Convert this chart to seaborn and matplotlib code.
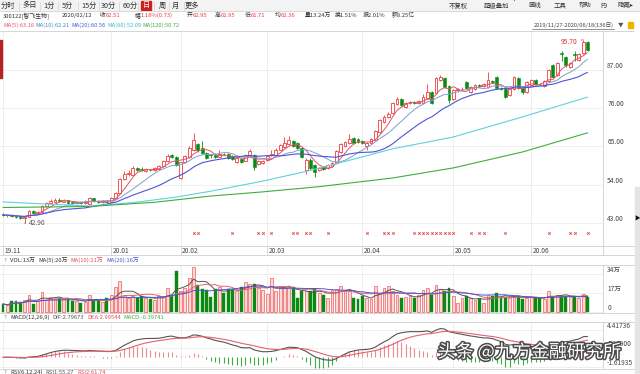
import numpy as np
import pandas as pd
import matplotlib
matplotlib.use("Agg")
import matplotlib.pyplot as plt
import matplotlib.patheffects as pe
from matplotlib.patches import Rectangle
from matplotlib.lines import Line2D
import seaborn as sns

# ------------------------------------------
# Data, 300122 daily, 2019/11/27 - 2020/06/18
# ------------------------------------------
open_ = [45.4, 45.1, 45.3, 44.9, 44.7, 44.4, 44.7, 46.3, 45.9, 46.1,
         47.9, 48.7, 49.1, 49.7, 49.1, 49.5, 48.9, 48.6, 48.9, 48.6,
         48.5, 50.0, 49.4, 48.9, 49.3, 49.1, 50.0, 51.6, 55.6, 57.1,
         56.9, 58.7, 58.4, 58.0, 58.3, 58.1, 58.6, 59.3, 60.7, 62.5,
         61.9, 55.9, 60.6, 61.9, 63.9, 65.6, 64.6, 63.0, 62.95, 62.6,
         62.0, 62.9, 62.8, 62.1, 60.4, 61.3, 60.9, 62.3, 62.6, 59.8,
         60.1, 61.1, 62.6, 62.6, 64.1, 64.9, 65.6, 66.6, 65.9, 64.4,
         58.3, 61.1, 59.6, 58.1, 59.1, 58.7, 59.4, 60.1, 63.4, 65.1,
         66.1, 67.3, 67.1, 66.6, 65.1, 66.0, 66.9, 69.1, 72.1, 73.6,
         74.6, 77.1, 78.7, 76.3, 77.5, 77.7, 77.4, 77.6, 78.9, 80.6,
         80.3, 84.1, 84.6, 82.3, 78.6, 81.1, 81.4, 83.6, 80.6, 81.6,
         82.6, 82.5, 82.1, 83.9, 84.9, 81.9, 81.6, 79.9, 81.4, 84.6,
         81.9, 80.6, 82.6, 84.1, 83.1, 82.3, 83.7, 88.3, 85.5, 91.9,
         90.6, 87.9, 91.6, 89.9, 91.8, 95.1]
close = [45.1, 45.3, 44.9, 44.7, 44.4, 44.6, 46.4, 45.9, 46.0, 47.9,
         48.6, 49.4, 49.6, 49.3, 49.5, 48.8, 48.6, 48.9, 48.7, 49.0,
         50.1, 49.2, 48.9, 49.3, 49.1, 50.1, 51.6, 55.7, 57.1, 57.3,
         58.9, 58.3, 58.1, 58.4, 58.1, 58.7, 59.3, 60.9, 62.3, 61.9,
         59.7, 60.4, 62.1, 64.6, 66.9, 63.9, 63.0, 61.78, 62.51, 61.9,
         62.8, 62.7, 61.7, 61.3, 61.6, 60.6, 62.6, 63.6, 59.1, 60.7,
         60.9, 62.3, 62.9, 64.1, 65.3, 66.1, 66.7, 65.1, 64.6, 61.9,
         61.1, 58.9, 57.6, 58.9, 58.6, 59.7, 60.1, 63.6, 65.6, 66.3,
         67.1, 66.1, 66.3, 65.9, 65.9, 67.1, 69.5, 72.6, 73.6, 74.4,
         77.6, 78.7, 77.0, 77.4, 77.7, 77.6, 78.1, 79.1, 80.6, 77.4,
         84.6, 84.9, 82.1, 78.3, 81.1, 81.4, 81.6, 81.7, 82.1, 82.6,
         82.4, 82.9, 84.1, 83.6, 81.7, 81.6, 79.1, 81.6, 84.9, 81.9,
         80.6, 83.6, 84.1, 83.1, 82.9, 83.7, 86.9, 84.9, 89.1, 91.6,
         88.3, 89.1, 91.4, 91.6, 95.1, 92.7]
high = [45.7, 45.6, 45.5, 45.1, 44.9, 44.8, 46.7, 46.6, 46.3, 48.1,
        49.0, 49.9, 50.0, 50.0, 49.8, 49.7, 49.1, 49.1, 49.1, 49.7,
        50.4, 50.2, 49.6, 49.6, 49.5, 50.4, 51.9, 56.0, 58.0, 58.1,
        59.4, 59.0, 59.0, 58.8, 58.6, 59.0, 59.6, 61.2, 62.7, 62.9,
        62.1, 60.6, 62.5, 65.1, 68.8, 66.1, 66.6, 63.3, 62.95, 63.0,
        64.1, 63.2, 63.0, 62.4, 61.9, 61.6, 62.9, 64.3, 62.9, 61.0,
        61.2, 62.6, 63.9, 64.4, 65.6, 67.6, 68.1, 66.9, 66.2, 64.7,
        61.6, 61.6, 59.9, 59.2, 59.4, 60.0, 60.4, 63.9, 65.9, 66.6,
        68.7, 67.6, 67.4, 66.9, 66.2, 67.4, 69.8, 72.9, 73.9, 74.8,
        77.9, 79.1, 79.0, 77.7, 78.0, 78.0, 78.4, 80.1, 83.1, 80.9,
        85.1, 85.6, 84.9, 82.6, 81.5, 81.8, 82.0, 83.9, 82.4, 82.9,
        82.9, 83.2, 86.3, 84.2, 85.2, 82.2, 81.9, 81.9, 85.2, 84.9,
        82.2, 83.9, 84.5, 84.4, 83.3, 84.0, 87.2, 88.6, 89.4, 92.4,
        90.9, 89.4, 92.6, 91.9, 95.7, 95.4]
low = [44.9, 44.8, 44.7, 44.4, 44.2, 42.9, 44.6, 45.7, 45.6, 46.0,
       47.6, 48.4, 48.9, 49.0, 48.9, 48.6, 48.3, 48.4, 48.5, 48.5,
       48.3, 49.0, 48.7, 48.7, 48.9, 48.9, 49.8, 51.4, 55.3, 56.6,
       56.7, 58.0, 57.8, 57.7, 57.8, 57.9, 58.3, 59.1, 60.5, 61.6,
       59.3, 55.7, 60.3, 61.7, 63.6, 63.5, 62.7, 61.5, 61.71, 61.6,
       61.8, 62.4, 61.4, 61.0, 60.1, 60.3, 60.7, 62.0, 58.1, 59.5,
       59.8, 60.8, 62.3, 62.4, 63.9, 64.6, 65.3, 64.8, 64.3, 61.6,
       57.1, 58.1, 56.1, 57.8, 58.3, 58.4, 59.2, 59.9, 63.1, 64.8,
       65.8, 65.8, 66.0, 65.6, 64.1, 65.7, 66.7, 68.9, 71.8, 73.3,
       74.4, 76.8, 76.7, 76.0, 77.2, 77.3, 77.1, 77.4, 78.6, 77.1,
       80.0, 83.8, 81.8, 77.6, 78.3, 80.8, 81.1, 81.4, 80.3, 81.3,
       82.1, 82.2, 81.8, 83.3, 81.4, 81.3, 78.8, 79.6, 81.1, 81.6,
       80.0, 80.3, 82.3, 82.8, 82.6, 82.0, 83.5, 84.6, 85.2, 89.6,
       88.0, 87.6, 89.6, 89.6, 91.5, 92.4]
# volume in 万 shares
volume = [6.7, 5.5, 9.1, 9.1, 8.5, 10.6, 15.2, 6.7, 9.7, 17.6,
          10.6, 13.3, 11.2, 12.1, 11.2, 11.5, 9.1, 9.7, 7.6, 8.2,
          15.2, 9.1, 9.1, 8.2, 12.1, 14.5, 21.8, 27.3, 15.2, 12.1,
          14.2, 12.1, 13.6, 12.1, 11.2, 10.6, 13.6, 13.6, 21.2, 15.2,
          36.0, 18.0, 21.0, 30.0, 40.0, 24.0, 20.0, 19.0, 13.2, 20.0,
          22.0, 17.0, 20.0, 19.0, 18.0, 22.0, 26.0, 25.0, 25.0, 21.0,
          19.0, 16.0, 30.0, 18.0, 22.0, 21.0, 22.0, 22.0, 12.0, 18.0,
          18.0, 18.0, 20.0, 17.0, 15.0, 12.0, 19.0, 20.0, 23.0, 19.0,
          18.0, 12.0, 11.0, 14.0, 12.0, 11.0, 23.0, 16.0, 21.0, 23.0,
          18.0, 15.0, 12.0, 13.0, 14.0, 12.0, 15.0, 19.0, 21.0, 15.0,
          24.0, 20.0, 18.0, 21.0, 14.0, 8.0, 12.0, 14.0, 12.0, 10.0,
          11.0, 8.0, 15.0, 14.0, 17.0, 12.0, 13.0, 12.0, 14.0, 14.0,
          11.0, 12.0, 13.0, 12.0, 12.0, 11.0, 18.0, 14.0, 15.0, 14.0,
          14.0, 13.0, 13.0, 12.0, 16.0, 13.0]

# long moving averages need history before the window, so read them off the chart
ma60_idx = [0, 10, 20, 30, 40, 48, 60, 70, 80, 90, 104, 120, 135]
ma60_val = [49.0, 48.4, 47.8, 48.8, 50.4, 52.1, 55.0, 57.8, 61.0, 64.3, 67.7, 73.5, 79.2]
ma120_idx = [0, 20, 35, 48, 60, 73, 90, 104, 120, 135]
ma120_val = [47.4, 47.7, 48.9, 50.7, 51.9, 53.4, 55.9, 58.8, 63.4, 68.9]

signal_idx = [44, 45, 53, 59, 60, 62, 67, 68, 70, 71, 75, 84, 88, 89, 90,
              95, 96, 97, 98, 99, 100, 101, 102, 103, 104, 108, 110, 111,
              116, 126, 131, 132, 135]

tick_pos = [0, 25, 41, 61, 83, 104, 122]
tick_lab = ["19.11", "20.01", "20.02", "20.03", "20.04", "20.05", "20.06"]
price_ticks = [43, 54, 65, 76, 87]
vol_ticks = [0, 17, 34]
vol_tick_lab = ["0", "17万", "34万"]
macd_ticks = [-1.61935, 1.39900, 4.41736]

# ------------------------------------------
# Derived series
# ------------------------------------------
df = pd.DataFrame({"open": open_, "close": close, "high": high,
                   "low": low, "vol": volume})
df["i"] = np.arange(len(df))
df["up"] = df["close"] >= df["open"]
for n in (5, 10, 20):
    df[f"ma{n}"] = df["close"].rolling(n, min_periods=1).mean()
    df[f"vma{n}"] = df["vol"].rolling(n, min_periods=1).mean()
ema12 = df["close"].ewm(span=12, adjust=False).mean()
ema26 = df["close"].ewm(span=26, adjust=False).mean()
df["dif"] = ema12 - ema26
df["dea"] = df["dif"].ewm(span=9, adjust=False).mean()
df["macd"] = 2 * (df["dif"] - df["dea"])

# ------------------------------------------
# Style
# ------------------------------------------
sns.set_theme(style="white")
plt.rcParams["font.family"] = ["Noto Sans CJK SC", "DejaVu Sans"]
plt.rcParams["axes.unicode_minus"] = False

RED = "#f03c3c"
GREEN = "#0b8a12"
GRID = "#ececec"
FRAME = "#cfcfcf"
C_MA5, C_MA10, C_MA20 = "#e8506a", "#7e9fc9", "#4b55d6"
C_MA60, C_MA120 = "#5fd0e2", "#40ad40"

W, H = 640, 374
fig = plt.figure(figsize=(6.4, 3.74), dpi=100)
fig.patch.set_facecolor("white")
renderer = fig.canvas.get_renderer()


def box(x0, y0, x1, y1):
    return [x0 / W, 1 - y1 / H, (x1 - x0) / W, (y1 - y0) / H]


def T(x, y, s, c="#333333", fs=4.2, ha="left", **kw):
    return fig.text(x / W, 1 - y / H, s, color=c, fontsize=fs, ha=ha,
                    va="center", **kw)


def seq(x, y, parts, fs=4.2, gap=3):
    # place a row of texts one after another
    for s, c in parts:
        t = T(x, y, s, c=c, fs=fs)
        x += t.get_window_extent(renderer=renderer).width + gap


def rect(x0, y0, x1, y1, **kw):
    fig.add_artist(Rectangle((x0 / W, 1 - y1 / H), (x1 - x0) / W,
                             (y1 - y0) / H, transform=fig.transFigure, **kw))


def hline(y, x0=0, x1=634, c=FRAME, lw=0.6):
    fig.add_artist(Line2D([x0 / W, x1 / W], [1 - y / H, 1 - y / H],
                          transform=fig.transFigure, color=c, lw=lw))


def vline(x, y0, y1, c=FRAME, lw=0.6):
    fig.add_artist(Line2D([x / W, x / W], [1 - y0 / H, 1 - y1 / H],
                          transform=fig.transFigure, color=c, lw=lw))


XL = (-0.69, 138.57)


def panel(ax, ylim, yticks, ylabels):
    ax.set_facecolor("white")
    ax.set_xlim(*XL)
    ax.set_ylim(*ylim)
    for s in ("left", "top", "bottom"):
        ax.spines[s].set_visible(False)
    ax.spines["right"].set_color(FRAME)
    ax.spines["right"].set_linewidth(0.6)
    ax.set_xticks(tick_pos)
    ax.set_yticks(yticks)
    ax.set_yticklabels(ylabels)
    ax.tick_params(axis="x", length=0, labelbottom=False)
    ax.tick_params(axis="y", length=0, pad=3, labelsize=4.8, labelcolor="#444444",
                   left=False, labelleft=False, right=False, labelright=True)
    for lab in ax.get_yticklabels():
        lab.set_va("bottom")
    ax.grid(True, color=GRID, lw=0.6)
    ax.set_axisbelow(True)
    ax.set_xlabel("")
    ax.set_ylabel("")


# ------------------------------------------
# Header rows
# ------------------------------------------
rect(0, 0, 640, 11, color="#f3f3f3", zorder=0)
hline(11, 0, 640, c="#d6d6d6")
tabs = [("分时", 8), ("多日", 30), ("1分", 49), ("5分", 67), ("15分", 89),
        ("30分", 108), ("60分", 130), ("日", 146), ("周", 162), ("月", 175),
        ("更多", 192)]
for k, (s, x) in enumerate(tabs):
    if s == "日":
        rect(141, 1, 151, 10, color="#c8231c")
        T(x, 5.5, s, c="white", fs=5.2, ha="center")
    else:
        T(x, 5.5, s, c="#333333", fs=5.2, ha="center")
    if k < len(tabs) - 1:
        vline((x + tabs[k + 1][1]) / 2, 2, 10, c="#d8d8d8")
for s, x in [("不复权", 458), ("超级叠加", 497), ("画线", 535), ("工具", 560),
             ("帮助", 585), ("F9", 604), ("隐藏▸", 626)]:
    T(x, 5.5, s, c="#333333", fs=4.6, ha="center")
T(514, 2.2, "•", c="#e02020", fs=3.5, ha="center")

row2 = [(3, "300122[智飞生物]", "#333333"), (62, "2020/02/12", "#333333"),
        (100, "收", "#333333"), (105.5, "62.51", RED),
        (135, "幅", "#333333"), (140.5, "1.18%(0.73)", RED),
        (187, "开", "#333333"), (192.5, "62.95", RED),
        (215, "高", "#333333"), (220.5, "62.95", RED),
        (245, "低", "#333333"), (250.5, "61.71", RED),
        (275, "均", "#333333"), (280.5, "62.36", RED),
        (305, "量13.24万", "#333333"), (335, "换1.51%", "#333333"),
        (363, "振2.01%", "#333333"), (392, "额8.25亿", "#333333")]
for x, s, c in row2:
    T(x, 15.5, s, c=c, fs=4.2)

seq(3, 25, [("MA(5):63.16", C_MA5), ("MA(10):62.21", "#3a8fc4"),
            ("MA(20):60.56", C_MA20), ("MA(60):52.09", "#35b9cf"),
            ("MA(120):50.72", C_MA120)], fs=4.1, gap=1.5)
T(614, 25, "2019/11/27-2020/06/18(136日)", c="#444444", fs=4.1, ha="right")
hline(29, 532, 614, c="#666666", lw=0.5)
T(621, 25, "▼", c="#555555", fs=4, ha="center")
rect(628, 22, 633, 28, color="#f0b400")

# frame lines
for y in (31, 246, 255, 265, 313, 322, 369):
    hline(y)
rect(0, 40, 1.6, 78, color="#b3231f")
rect(635, 187, 640, 374, color="#e4e4e4")
T(637.5, 219, "▶", c="#111111", fs=4, ha="center")

# ------------------------------------------
# Price panel
# ------------------------------------------
ax = fig.add_axes(box(0, 31, 603, 246))
panel(ax, (36.31, 98.23), price_ticks, [f"{v:.2f}" for v in price_ticks])

upd = df[df["up"]]
dnd = df[~df["up"]]
body = (df["close"] - df["open"]).abs().clip(lower=0.15)
bottom = df[["open", "close"]].min(axis=1)
ax.vlines(upd["i"], upd["low"], upd["high"], color=RED, lw=0.6, zorder=3)
ax.vlines(dnd["i"], dnd["low"], dnd["high"], color=GREEN, lw=0.6, zorder=3)
ax.bar(upd["i"], body[df["up"]], bottom=bottom[df["up"]], width=0.66,
       facecolor="white", edgecolor=RED, linewidth=0.6, zorder=3)
ax.bar(dnd["i"], body[~df["up"]], bottom=bottom[~df["up"]], width=0.66,
       facecolor=GREEN, edgecolor=GREEN, linewidth=0.4, zorder=3)

sns.lineplot(x=df["i"], y=df["ma5"], ax=ax, color=C_MA5, lw=0.7, zorder=4)
sns.lineplot(x=df["i"], y=df["ma10"], ax=ax, color=C_MA10, lw=0.7, zorder=4)
sns.lineplot(x=df["i"], y=df["ma20"], ax=ax, color=C_MA20, lw=0.8, zorder=4)
sns.lineplot(x=ma60_idx, y=ma60_val, ax=ax, color=C_MA60, lw=0.8, zorder=4)
sns.lineplot(x=ma120_idx, y=ma120_val, ax=ax, color=C_MA120, lw=0.8, zorder=4)
ax.set_xlabel("")
ax.set_ylabel("")

ax.scatter(signal_idx, [0.06] * len(signal_idx), transform=ax.get_xaxis_transform(),
           marker="x", s=3, color="#e84040", lw=0.6, zorder=5)

ihi = int(np.argmax(high))
ilo = int(np.argmin(low))
ax.annotate(f"{high[ihi]:.2f}", xy=(ihi, high[ihi]), xytext=(-4, -1.5),
            textcoords="offset points", ha="right", va="center", fontsize=4.8,
            color="#e03030", arrowprops=dict(arrowstyle="-", color="#e03030", lw=0.5))
ax.annotate(f"{low[ilo]:.2f}", xy=(ilo, low[ilo]), xytext=(3, 0),
            textcoords="offset points", ha="left", va="center", fontsize=4.8,
            color="#555555", arrowprops=dict(arrowstyle="-", color="#555555", lw=0.5))

# ------------------------------------------
# Date strip
# ------------------------------------------
axd = fig.add_axes(box(0, 246, 603, 255))
panel(axd, (0, 1), [], [])
axd.grid(False)
axd.vlines(tick_pos, 0, 1, color=FRAME, lw=0.6)
for p, s in zip(tick_pos, tick_lab):
    axd.text(p + 0.4, 0.45, s, fontsize=4.8, color="#444444", ha="left", va="center")

# ------------------------------------------
# Volume panel
# ------------------------------------------
T(4, 260.5, "?", c="#888888", fs=4.2)
seq(10, 260.5, [("VOL:13万", "#333333"), ("MA(5):20万", "#333333"),
                ("MA(10):21万", "#e05060"), ("MA(20):16万", C_MA20)])

axv = fig.add_axes(box(0, 265, 603, 313))
panel(axv, (-1.3, 41.6), vol_ticks, vol_tick_lab)
axv.bar(upd["i"], upd["vol"], width=0.66, facecolor="#fcd9d9", edgecolor="#f05a5a",
        linewidth=0.5, zorder=3)
axv.bar(dnd["i"], dnd["vol"], width=0.66, facecolor=GREEN, edgecolor=GREEN,
        linewidth=0.3, zorder=3)
sns.lineplot(x=df["i"], y=df["vma5"], ax=axv, color="#555555", lw=0.7, zorder=4)
sns.lineplot(x=df["i"], y=df["vma10"], ax=axv, color="#e66070", lw=0.7, zorder=4)
sns.lineplot(x=df["i"], y=df["vma20"], ax=axv, color=C_MA20, lw=0.7, zorder=4)
axv.set_xlabel("")
axv.set_ylabel("")

# ------------------------------------------
# MACD panel
# ------------------------------------------
T(4, 317.5, "?", c="#888888", fs=4.2)
seq(10, 317.5, [("MACD(12,26,9)", "#333333"), ("DIF:2.79673", "#555555"),
                ("DEA:2.99544", "#e05060"), ("MACD:-0.39741", "#3cb040")])

axm = fig.add_axes(box(0, 322, 603, 369))
panel(axm, (-1.86, 5.61), macd_ticks, [f"{v:.5f}" for v in macd_ticks])
pos = df[df["macd"] >= 0]
neg = df[df["macd"] < 0]
axm.vlines(pos["i"], 0, pos["macd"], color="#f08a8a", lw=0.8, zorder=3)
axm.vlines(neg["i"], 0, neg["macd"], color="#3cb040", lw=0.8, zorder=3)
sns.lineplot(x=df["i"], y=df["dif"], ax=axm, color="#555555", lw=0.8, zorder=4)
sns.lineplot(x=df["i"], y=df["dea"], ax=axm, color="#e66070", lw=0.8, zorder=4)
axm.set_xlabel("")
axm.set_ylabel("")

# RSI header (cut by the bottom edge, as in the screenshot)
T(4, 372.5, "?", c="#888888", fs=4.2)
seq(10, 372.5, [("RSI(6,12,24)", "#333333"), ("RSI1:55.27", "#555555"),
                ("RSI2:61.74", "#e05060")])

# watermark
wm = T(529, 352, "头条 @九方金融研究所", c="white", fs=13, ha="center")
wm.set_path_effects([pe.withStroke(linewidth=2.2, foreground="#4a4a4a")])

fig.savefig("out.png", dpi=100, facecolor="white")
